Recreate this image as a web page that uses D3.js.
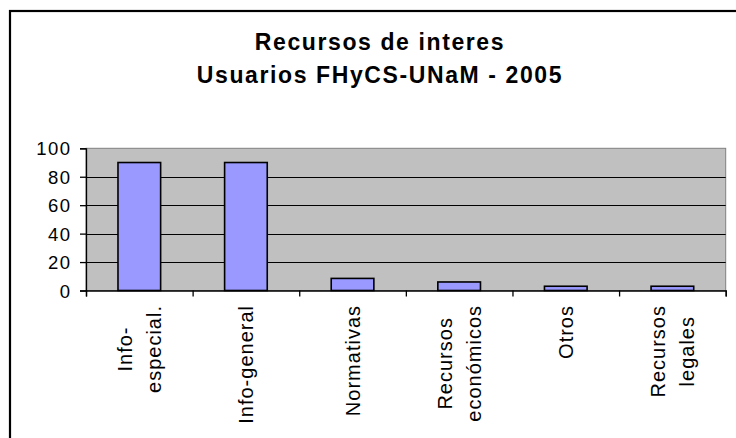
<!DOCTYPE html>
<html><head><meta charset="utf-8">
<script src="https://cdn.jsdelivr.net/npm/d3@7"></script>
<style>
html,body{margin:0;padding:0;background:#fff;}
svg{display:block;font-family:"Liberation Sans",Arial,sans-serif;}
</style></head>
<body>
<svg id="chart" width="736" height="438"></svg>
<script>
const titleLines = ["Recursos de interes", "Usuarios FHyCS-UNaM - 2005"];
const categories = [["Info-", "especial."], ["Info-general"], ["Normativas"], ["Recursos", "económicos"], ["Otros"], ["Recursos", "legales"]];
const values = [90, 90, 8.5, 6, 3, 3];
const yTicks = [0, 20, 40, 60, 80, 100];

const FONT = "'Liberation Sans', Arial, sans-serif";
const svg = d3.select("#chart");
const W = 736, H = 438;
svg.append("rect").attr("width", W).attr("height", H).attr("fill", "#fff");

// outer frame (extends beyond window right/bottom)
svg.append("rect").attr("x", 10).attr("y", 11).attr("width", 760).attr("height", 460)
  .attr("fill", "none").attr("stroke", "#000").attr("stroke-width", 2.2);

// title
const title = svg.append("text").attr("text-anchor", "middle").attr("font-family", FONT)
  .attr("font-weight", "bold").attr("font-size", 23).attr("letter-spacing", 1.6).attr("fill", "#000");
titleLines.forEach((t, i) => {
  title.append("tspan").attr("x", 380).attr("y", i === 0 ? 49.5 : 82.5).text(t);
});

const plot = {left: 86, right: 725.7, top: 148.3, bottom: 290.5};
const x = d3.scaleBand().domain(d3.range(categories.length)).range([plot.left, plot.right]).paddingInner(0).paddingOuter(0);
const y = d3.scaleLinear().domain([0, 100]).range([plot.bottom, plot.top]);

// plot area
svg.append("rect").attr("x", plot.left).attr("y", plot.top)
  .attr("width", plot.right - plot.left).attr("height", plot.bottom - plot.top)
  .attr("fill", "#C0C0C0").attr("stroke", "#808080").attr("stroke-width", 1);

// gridlines
svg.append("g").selectAll("line").data(yTicks.filter(d => d > 0 && d < 100)).join("line")
  .attr("x1", plot.left).attr("x2", plot.right)
  .attr("y1", d => Math.round(y(d)) + 0.5).attr("y2", d => Math.round(y(d)) + 0.5)
  .attr("stroke", "#000").attr("stroke-width", 1);

// bars
const bw = x.bandwidth() / 2.5;
svg.append("g").selectAll("rect").data(values).join("rect")
  .attr("x", (d, i) => x(i) + (x.bandwidth() - bw) / 2)
  .attr("y", d => y(d))
  .attr("width", bw)
  .attr("height", d => y(0) - y(d))
  .attr("fill", "#9999FF").attr("stroke", "#000").attr("stroke-width", 1.6);

// y axis
const yAxis = d3.axisLeft(y).tickValues(yTicks).tickSize(6).tickPadding(10).tickFormat(d3.format("d"));
const gy = svg.append("g").attr("transform", `translate(${plot.left},0)`).call(yAxis);
gy.attr("font-family", FONT);
gy.select(".domain").attr("stroke", "#000").attr("stroke-width", 1.3);
gy.selectAll(".tick line").attr("stroke", "#000").attr("stroke-width", 1.3);
gy.selectAll(".tick text").attr("font-size", 18.5)
  .attr("fill", "#000").attr("letter-spacing", 1.5).attr("dy", "0.36em").attr("dx", 1.5);

// x axis
const xAxis = d3.axisBottom(d3.scaleLinear().domain([0, categories.length]).range([plot.left, plot.right]))
  .tickValues(d3.range(categories.length + 1)).tickSize(6).tickFormat("");
const gx = svg.append("g").attr("transform", `translate(0,${plot.bottom})`).call(xAxis);
gx.select(".domain").attr("stroke", "#000").attr("stroke-width", 1.3);
gx.selectAll(".tick line").attr("stroke", "#000").attr("stroke-width", 1.3);

// category labels (rotated)
const labelTop = 305;
const lineGap = 29;
categories.forEach((lines, i) => {
  const cx = x(i) + x.bandwidth() / 2;
  const g = svg.append("g");
  const t = g.append("text").attr("text-anchor", "middle").attr("font-size", 20).attr("font-family", FONT)
    .attr("letter-spacing", 1).attr("fill", "#000");
  const spans = lines.map((s, j) => t.append("tspan").attr("x", 0)
    .attr("y", (j - (lines.length - 1) / 2) * lineGap).attr("dy", "0.35em").text(s));
  const maxLen = d3.max(spans, sp => sp.node().getComputedTextLength());
  g.attr("transform", `translate(${cx},${labelTop + maxLen / 2}) rotate(-90)`);
});
</script>
</body></html>
